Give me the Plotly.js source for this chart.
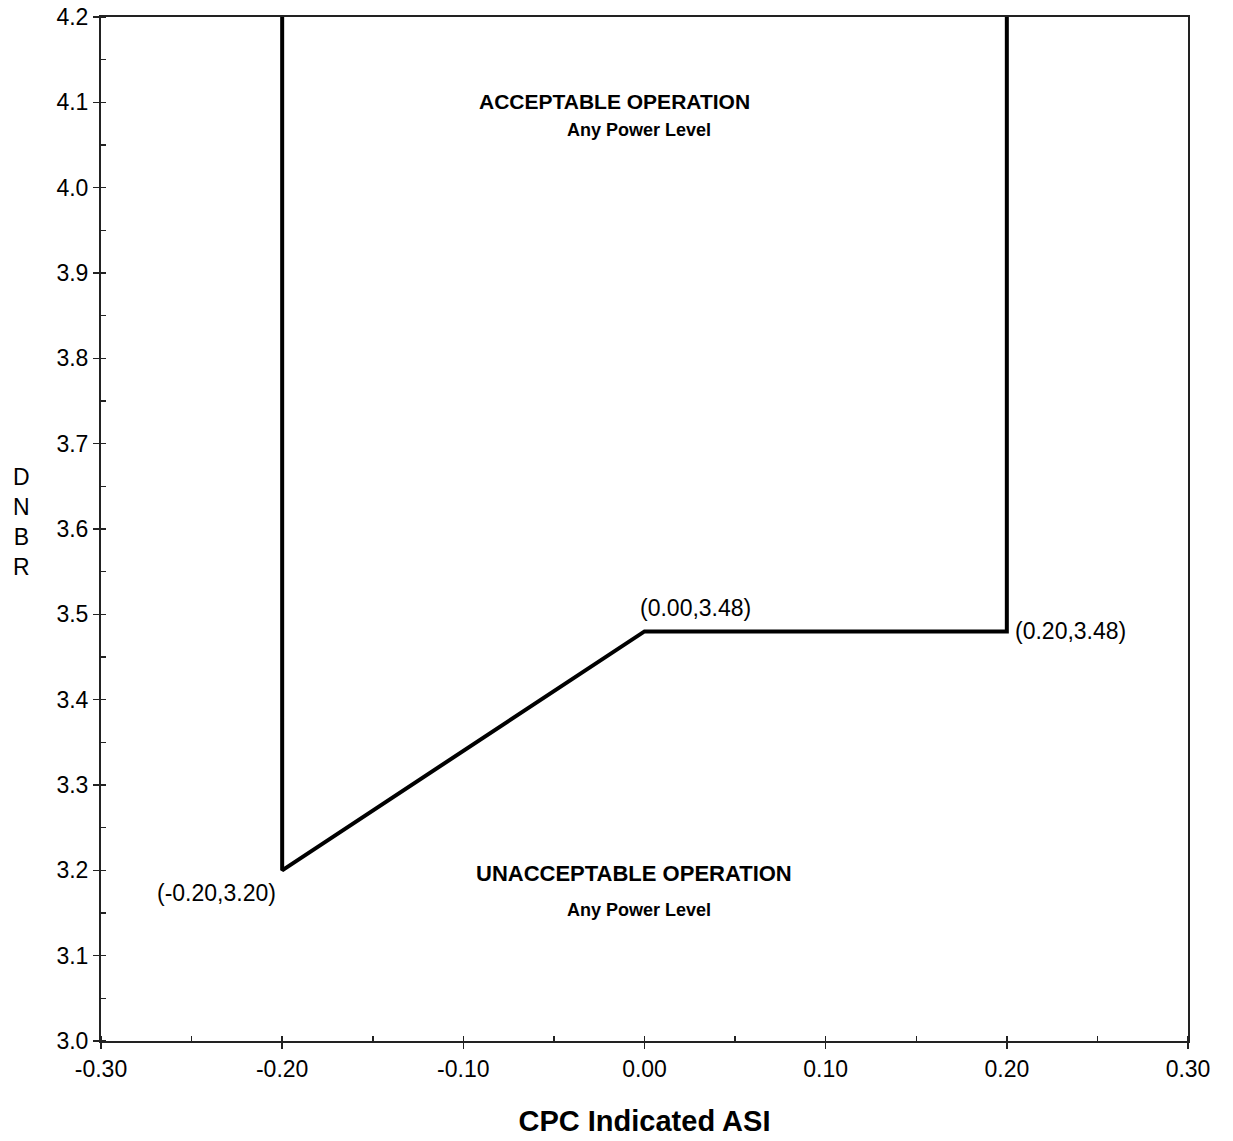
<!DOCTYPE html>
<html>
<head>
<meta charset="utf-8">
<script src="https://cdn.plot.ly/plotly-3.0.1.min.js"></script>
<style>body{margin:0;background:#fff}#chart{width:1233px;height:1141px}</style>
</head>
<body>
<div id="chart"></div>
<script>
// Limit line data
const limitASI = [-0.20, -0.20, 0.00, 0.20, 0.20];
const limitDNBR = [4.20, 3.20, 3.48, 3.48, 4.20];

// Point labels
const pointLabels = ["(0.00,3.48)", "(0.20,3.48)", "(-0.20,3.20)"];
const pointLabelX = [0.028, 0.2033, -0.236];
const pointLabelY = [3.507, 3.48, 3.173];

// Region labels
const regionText = ["ACCEPTABLE OPERATION", "Any Power Level", "UNACCEPTABLE OPERATION", "Any Power Level"];
const regionX = [-0.0165, -0.003, -0.006, -0.003];
const regionY = [4.1015, 4.0675, 3.1965, 3.154];

const xTicks = [-0.30, -0.20, -0.10, 0.00, 0.10, 0.20, 0.30];
const xTickText = ["-0.30", "-0.20", "-0.10", "0.00", "0.10", "0.20", "0.30"];
const yTicks = [3.0, 3.1, 3.2, 3.3, 3.4, 3.5, 3.6, 3.7, 3.8, 3.9, 4.0, 4.1, 4.2];
const yTickText = ["3.0", "3.1", "3.2", "3.3", "3.4", "3.5", "3.6", "3.7", "3.8", "3.9", "4.0", "4.1", "4.2"];

const yTitleLetters = ["D", "N", "B", "R"];

const font = "Arial, 'Liberation Sans', sans-serif";

const annotations = [];
pointLabels.forEach((t, i) => annotations.push({
  x: pointLabelX[i], y: pointLabelY[i], xref: 'x', yref: 'y', text: t, showarrow: false,
  xanchor: i === 1 ? 'left' : 'center', yanchor: 'middle',
  font: {family: font, size: 23, color: '#000'}
}));
const regionSizes = [21, 18, 22, 18];
regionText.forEach((t, i) => annotations.push({
  x: regionX[i], y: regionY[i], xref: 'x', yref: 'y', text: '<b>' + t + '</b>', showarrow: false,
  xanchor: 'center', yanchor: 'middle',
  font: {family: font, size: regionSizes[i], color: '#000'}
}));
annotations.push({
  x: -0.073, y: 3.608, xref: 'paper', yref: 'y', text: yTitleLetters.join('<br>'), showarrow: false,
  xanchor: 'center', yanchor: 'middle', align: 'center',
  font: {family: font, size: 23, color: '#000'}
});

const data = [{
  x: limitASI, y: limitDNBR, type: 'scatter', mode: 'lines',
  line: {color: '#000', width: 4}, hoverinfo: 'skip', showlegend: false
}];

const layout = {
  width: 1233, height: 1141,
  margin: {l: 101, r: 45, t: 17, b: 100},
  paper_bgcolor: '#fff', plot_bgcolor: '#fff',
  showlegend: false,
  font: {family: font, color: '#000'},
  xaxis: {
    range: [-0.30, 0.30], tickvals: xTicks, ticktext: xTickText,
    showgrid: false, zeroline: false, showline: true, mirror: true,
    linecolor: '#222', linewidth: 2,
    ticks: 'outside', ticklen: 6, tickcolor: '#222', tickwidth: 1.5,
    minor: {dtick: 0.05, ticks: 'inside', ticklen: 5, tickcolor: '#222', showgrid: false},
    tickfont: {family: font, size: 23, color: '#000'},
    title: {text: '<b>CPC Indicated ASI</b>', font: {family: font, size: 29, color: '#000'}, standoff: 30}
  },
  yaxis: {
    range: [3.0, 4.2], tickvals: yTicks, ticktext: yTickText,
    showgrid: false, zeroline: false, showline: true, mirror: true,
    linecolor: '#222', linewidth: 2,
    ticks: 'outside', ticklen: 6, tickcolor: '#222', tickwidth: 1.5,
    minor: {dtick: 0.05, ticks: 'inside', ticklen: 5, tickcolor: '#222', showgrid: false},
    tickfont: {family: font, size: 23, color: '#000'}
  },
  annotations: annotations
};

Plotly.newPlot('chart', data, layout, {displayModeBar: false, staticPlot: true});
</script>
</body>
</html>
